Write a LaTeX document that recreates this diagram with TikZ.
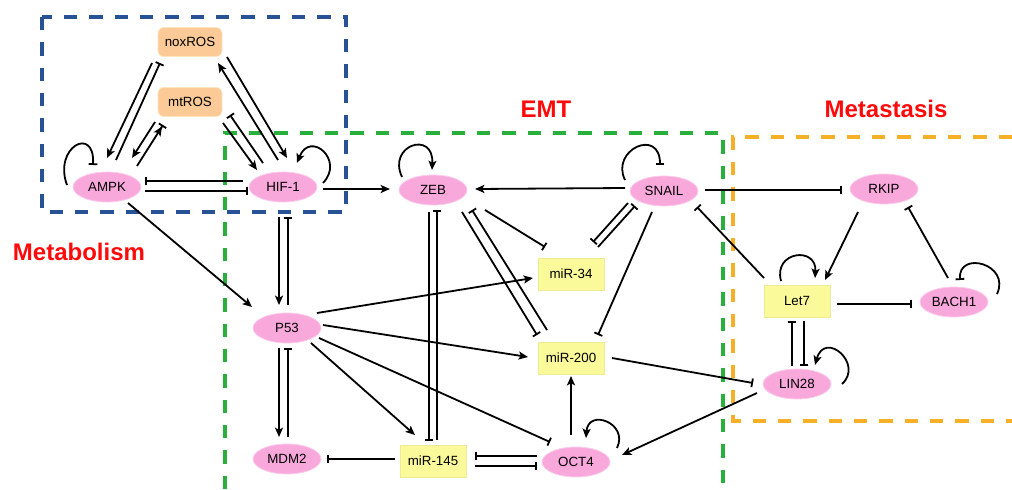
\documentclass[tikz,border=0pt]{standalone}
\usepackage{fontspec}
\setmainfont{Liberation Sans}
\usetikzlibrary{arrows.meta,shapes.geometric,calc}
\definecolor{pinkfill}{RGB}{249,168,220}
\definecolor{pinkdraw}{RGB}{252,205,235}
\definecolor{yelfill}{RGB}{250,250,155}
\definecolor{yeldraw}{RGB}{238,235,150}
\definecolor{orgfill}{RGB}{251,202,150}
\definecolor{orgdraw}{RGB}{252,228,190}
\definecolor{boxblue}{RGB}{40,82,150}
\definecolor{boxgreen}{RGB}{40,175,60}
\definecolor{boxorange}{RGB}{246,176,40}
\definecolor{titlered}{RGB}{255,10,10}
\tikzset{
  gene/.style={ellipse,fill=pinkfill,draw=pinkdraw,line width=0.6pt,minimum width=51pt,minimum height=22.5pt,inner sep=0pt,font=\fontsize{10}{12}\selectfont},
  mirna/.style={rectangle,fill=yelfill,draw=yeldraw,line width=0.6pt,minimum width=49.5pt,minimum height=24pt,inner sep=0pt,font=\fontsize{10}{12}\selectfont},
  ros/.style={rectangle,rounded corners=4.5pt,fill=orgfill,draw=orgdraw,line width=0.6pt,minimum width=48pt,minimum height=21.75pt,inner sep=0pt,font=\fontsize{10}{12}\selectfont},
  act/.style={line width=1.35pt,-{Stealth[length=7pt,width=6pt,inset=1.6pt]}},
  inh/.style={line width=1.35pt,-{Bar[width=6.5pt,line width=1.35pt]}},
  actinh/.style={line width=1.35pt,-{Stealth[length=7pt,width=6pt,inset=1.6pt] Bar[width=6.5pt,line width=1.35pt]}},
  region/.style={line width=2.3pt,dash pattern=on 10pt off 9pt},
  title/.style={font=\fontsize{18}{20}\selectfont\bfseries,text=titlered,anchor=base}
}
\begin{document}
\begin{tikzpicture}[x=0.75pt,y=-0.75pt]
\useasboundingbox (0,0) rectangle (1012,489);
% regions
\draw[region,draw=boxgreen] (225,489) -- (225,133) -- (723,133) -- (723,489);
\draw[region,draw=boxorange] (1012,137) -- (733,137) -- (733,421) -- (1012,421);
\draw[region,draw=boxblue] (42,17) rectangle (346,212);
% titles
\node[title] (tMet) at (79,260) {Metabolism};
\node[title] (tEMT) at (546,117) {EMT};
\node[title] (tMeta) at (886,117) {Metastasis};
% nodes
\node[ros] (noxROS) at (190,42) {noxROS};
\node[ros] (mtROS) at (190,102) {mtROS};
\node[gene] (AMPK) at (107,187) {AMPK};
\node[gene] (HIF) at (283,187) {HIF-1};
\node[gene] (ZEB) at (433,190) {ZEB};
\node[gene] (SNAIL) at (664,191) {SNAIL};
\node[mirna] (miR34) at (571,274) {miR-34};
\node[gene] (RKIP) at (884,189) {RKIP};
\node[mirna] (Let7) at (797,301) {Let7};
\node[gene] (BACH1) at (954,302) {BACH1};
\node[gene] (LIN28) at (797,384) {LIN28};
\node[gene] (P53) at (287,328) {P53};
\node[gene] (MDM2) at (287,459) {MDM2};
\node[mirna] (miR145) at (433,461) {miR-145};
\node[mirna] (miR200) at (571,358) {miR-200};
\node[gene] (OCT4) at (576,462) {OCT4};
% metabolism edges
\draw[act] ($(noxROS)+(-38,21)$) -- ($(AMPK)+(0,-29)$);
\draw[inh] ($(AMPK)+(9,-27)$) -- ($(noxROS)+(-30,21)$);
\draw[act] ($(mtROS)+(-35,20)$) -- ($(AMPK)+(25,-29)$);
\draw[actinh] ($(AMPK)+(30,-21)$) -- ($(mtROS)+(-27,23)$);
\draw[act] ($(mtROS)+(33,21)$) -- ($(HIF)+(-26,-17)$);
\draw[inh] ($(HIF)+(-20,-24)$) -- ($(mtROS)+(40,13)$);
\draw[act] ($(noxROS)+(37,15)$) -- ($(HIF)+(4,-29)$);
\draw[act] ($(HIF)+(-5,-27)$) -- ($(noxROS)+(28,21)$);
\draw[inh] ($(HIF)+(-40,-6)$) -- ($(AMPK)+(38,-6)$);
\draw[inh] ($(AMPK)+(38,4)$) -- ($(HIF)+(-35,4)$);
\draw[inh] ($(AMPK)+(-40,-2)$) .. controls +(-14,-38) and +(2,-40) .. ($(AMPK)+(-14,-22)$);
\draw[act] ($(HIF)+(40,-4)$) .. controls +(22,-23) and +(13,-33) .. ($(HIF)+(14,-24)$);
% links out of metabolism
\draw[act] ($(HIF)+(40,2)$) -- ($(ZEB)+(-43,-1)$);
\draw[act] ($(AMPK)+(21,16)$) -- ($(P53)+(-35,-21)$);
\draw[act] ($(HIF)+(-4,30)$) -- ($(P53)+(-8,-23)$);
\draw[inh] ($(P53)+(1,-23)$) -- ($(HIF)+(5,30)$);
% EMT edges
\draw[act] ($(ZEB)+(-31,-13)$) .. controls +(-15,-32) and +(2,-40) .. ($(ZEB)+(-1,-20)$);
\draw[act] ($(SNAIL)+(-39,-3)$) -- ($(ZEB)+(42,-1)$);
\draw[inh] ($(ZEB)+(-4,22)$) -- ($(miR145)+(-4,-20)$);
\draw[inh] ($(miR145)+(4,-21)$) -- ($(ZEB)+(4,20)$);
\draw[inh] ($(ZEB)+(29,22)$) -- ($(miR200)+(-34,-23)$);
\draw[inh] ($(miR200)+(-24,-28)$) -- ($(ZEB)+(39,20)$);
\draw[inh] ($(ZEB)+(52,20)$) -- ($(miR34)+(-26,-27)$);
\draw[inh] ($(SNAIL)+(-36,12)$) -- ($(miR34)+(22,-32)$);
\draw[inh] ($(miR34)+(27,-27)$) -- ($(SNAIL)+(-29,15)$);
\draw[inh] ($(SNAIL)+(-12,21)$) -- ($(miR200)+(27,-23)$);
\draw[inh] ($(SNAIL)+(-39,-11)$) .. controls +(-15,-30) and +(0,-38) .. ($(SNAIL)+(-4,-26)$);
\draw[inh] ($(SNAIL)+(41,-1)$) -- ($(RKIP)+(-42,1)$);
\draw[inh] ($(Let7)+(-33,-23)$) -- ($(SNAIL)+(33,16)$);
\draw[act] ($(P53)+(30,-15)$) -- ($(miR34)+(-38,4)$);
\draw[act] ($(P53)+(36,-3)$) -- ($(miR200)+(-43,-1)$);
\draw[act] ($(P53)+(24,15)$) -- ($(miR145)+(-18,-26)$);
\draw[inh] ($(P53)+(32,10)$) -- ($(OCT4)+(-26,-20)$);
\draw[act] ($(P53)+(-8,20)$) -- ($(MDM2)+(-8,-22)$);
\draw[inh] ($(MDM2)+(1,-22)$) -- ($(P53)+(1,20)$);
\draw[inh] ($(miR145)+(-38,-2)$) -- ($(MDM2)+(40,0)$);
\draw[inh] ($(OCT4)+(-39,-6)$) -- ($(miR145)+(42,-5)$);
\draw[inh] ($(miR145)+(42,5)$) -- ($(OCT4)+(-39,4)$);
\draw[act] ($(OCT4)+(-5,-27)$) -- ($(miR200)+(0,18)$);
\draw[act] ($(OCT4)+(41,-14)$) .. controls +(12,-25) and +(2,-30) .. ($(OCT4)+(10,-24)$);
% metastasis edges
\draw[inh] ($(miR200)+(41,0)$) -- ($(LIN28)+(-44,-1)$);
\draw[act] ($(LIN28)+(-40,9)$) -- ($(OCT4)+(46,-7)$);
\draw[act] ($(RKIP)+(-26,23)$) -- ($(Let7)+(28,-21)$);
\draw[inh] ($(BACH1)+(-6,-24)$) -- ($(RKIP)+(24,18)$);
\draw[inh] ($(BACH1)+(43,-8)$) .. controls +(14,-30) and +(-2,-30) .. ($(BACH1)+(6,-22)$);
\draw[inh] ($(Let7)+(40,3)$) -- ($(BACH1)+(-42,2)$);
\draw[act] ($(Let7)+(-16,-20)$) .. controls +(-8,-30) and +(2,-32) .. ($(Let7)+(18,-23)$);
\draw[inh] ($(LIN28)+(-5,-18)$) -- ($(Let7)+(-5,20)$);
\draw[inh] ($(Let7)+(7,20)$) -- ($(LIN28)+(7,-18)$);
\draw[act] ($(LIN28)+(45,0)$) .. controls +(22,-20) and +(10,-35) .. ($(LIN28)+(18,-19)$);
\end{tikzpicture}
\end{document}
